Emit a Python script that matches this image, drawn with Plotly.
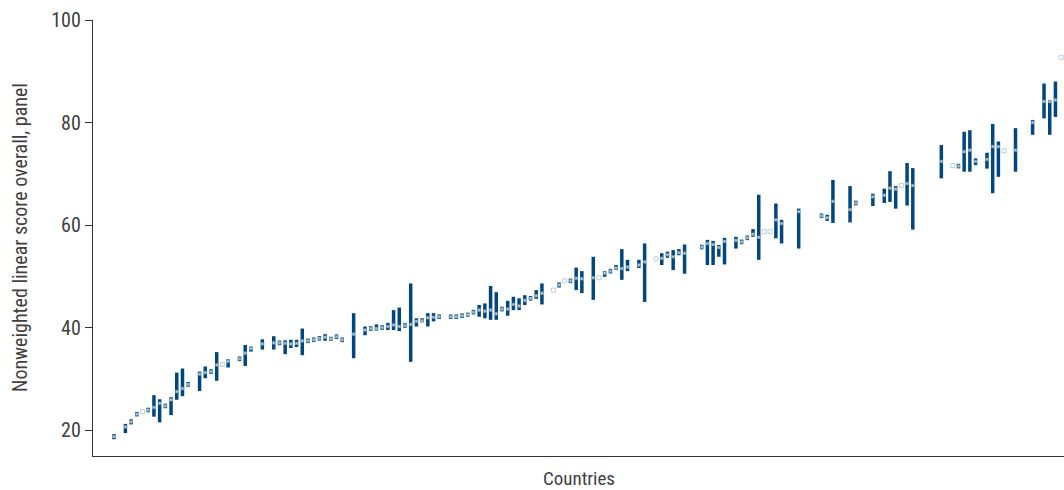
import numpy as np
import plotly.graph_objects as go

# Country slots ordered by score; None marks a country with no panel value
score = [18.7, None, 20.6, 21.6, 23.1, 23.6, 23.9, 24.4, 25.2, 24.7,
         25.9, 27.5, 28.1, 28.9, None, 30.9, 31.2, 31.4, 32.7, 32.8,
         33.4, None, 33.9, 35.0, 35.9, None, 36.8, None, 37.0, 37.0,
         36.9, 36.8, 36.9, 37.4, 37.4, 37.6, 37.9, 38.1, 37.8, 38.2,
         37.6, None, 38.7, None, 39.5, 39.8, 39.8, 40.0, 40.2, 40.5,
         40.2, 40.4, 40.6, 41.2, 41.3, 41.9, 42.0, 42.1, None, 42.1,
         42.1, 42.3, 42.5, 43.0, 43.4, 43.2, 43.4, 42.7, 43.6, 43.6,
         44.5, 44.2, 45.3, 45.7, 46.2, 46.7, None, 47.3, 48.3, 49.1,
         49.1, 49.6, 49.5, None, 49.7, 49.7, 50.6, 51.0, 51.6, 51.5,
         51.8, None, 52.2, 52.8, None, 53.4, 53.5, 54.2, 53.8, 54.6,
         54.5, None, None, 55.7, 56.4, 56.2, 55.6, 56.8, None, 57.0,
         56.7, 57.5, 58.2, 57.6, 58.7, 58.7, 61.0, 60.3, None, None,
         62.6, None, None, None, 61.8, 61.4, 64.6, None, None, 63.0,
         64.3, None, None, 65.5, None, 65.8, 67.2, 67.0, 67.7, 68.1,
         67.7, None, None, None, None, 72.4, None, 71.6, 71.5, 74.3,
         74.6, 72.4, None, 72.8, 75.3, 75.3, 74.5, None, 74.6, None,
         None, 80.0, None, 84.1, 84.1, 84.4, 92.7]

score_low = [18.2, None, 19.4, 21.1, 22.65, 23.6, 23.45, 22.6, 21.5, 24.25,
             22.9, 25.9, 26.6, 28.45, None, 27.6, 30.1, 30.95, 29.6, 32.8,
             32.2, None, 33.45, 32.5, 35.3, None, 35.7, None, 35.7, 36.55,
             34.8, 36.0, 36.2, 34.6, 36.95, 37.15, 37.45, 37.4, 37.4, 37.75,
             37.15, None, 34.0, None, 38.5, 39.35, 39.4, 39.55, 39.5, 39.5,
             39.3, 39.95, 33.3, 40.2, 41.0, 40.2, 41.2, 41.65, None, 41.65,
             41.65, 41.85, 42.1, 42.55, 42.1, 41.8, 41.5, 41.5, 43.15, 42.3,
             43.4, 43.4, 44.4, 45.25, 45.6, 44.5, None, 47.3, 47.8, 49.1,
             48.65, 47.3, 46.7, None, 45.4, 49.7, 49.9, 50.55, 51.2, 49.3,
             51.0, None, 51.6, 45.0, None, 53.4, 52.2, 53.6, 51.2, 54.1,
             50.5, None, None, 55.25, 52.2, 52.2, 53.8, 52.3, None, 55.4,
             56.25, 57.05, 57.7, 53.2, 58.7, 58.7, 57.4, 56.4, None, None,
             55.4, None, None, None, 61.35, 60.8, 60.4, None, None, 60.5,
             63.85, None, None, 63.7, None, 64.3, 64.5, 63.2, 67.7, 63.8,
             59.1, None, None, None, None, 69.1, None, 71.6, 71.05, 70.4,
             70.4, 71.7, None, 71.0, 66.2, 69.4, 74.5, None, 70.4, None,
             None, 77.6, None, 80.8, 77.6, 81.1, 92.7]

score_high = [19.2, None, 21.2, 22.1, 23.55, 23.6, 24.35, 26.8, 26.0, 25.15,
              26.4, 31.2, 32.0, 29.35, None, 31.4, 32.4, 31.85, 35.2, 32.8,
              33.8, None, 34.35, 36.6, 36.3, None, 37.7, None, 38.3, 37.45,
              37.5, 37.6, 37.6, 39.8, 37.85, 38.05, 38.35, 38.7, 38.2, 38.65,
              38.05, None, 42.8, None, 40.2, 40.25, 40.6, 40.45, 40.9, 43.4,
              43.9, 40.85, 48.6, 41.8, 41.8, 42.8, 42.8, 42.55, None, 42.55,
              42.55, 42.75, 42.9, 43.45, 44.4, 44.7, 48.1, 46.9, 44.05, 45.2,
              46.0, 45.7, 46.3, 46.15, 47.3, 48.6, None, 47.3, 48.8, 49.1,
              49.55, 51.7, 51.0, None, 53.8, 49.7, 51.0, 51.45, 52.2, 55.3,
              53.2, None, 53.2, 56.4, None, 53.4, 54.5, 54.8, 55.1, 55.3,
              56.2, None, None, 56.15, 57.1, 56.9, 56.1, 57.5, None, 57.7,
              57.15, 57.95, 59.2, 65.9, 58.7, 58.7, 64.2, 61.0, None, None,
              63.2, None, None, None, 62.25, 62.0, 68.8, None, None, 67.6,
              64.75, None, None, 66.1, None, 67.1, 70.5, 67.6, 67.7, 72.1,
              71.1, None, None, None, None, 75.6, None, 71.6, 71.95, 78.2,
              78.5, 73.0, None, 74.1, 79.7, 76.3, 74.5, None, 78.9, None,
              None, 80.5, None, 87.6, 84.4, 88.0, 92.7]

y_ticks = [20, 40, 60, 80, 100]

BAR_BLUE = "#00477f"
TEXT = "#404040"
FONT = "Liberation Sans Narrow, Arial Narrow, Roboto Condensed, sans-serif"

mid = np.array([np.nan if v is None else v for v in score], dtype=float)
lo = np.array([np.nan if v is None else v for v in score_low], dtype=float)
hi = np.array([np.nan if v is None else v for v in score_high], dtype=float)
slot = np.arange(len(mid))

# Countries with no spread show only the open square; others get a small gap mark
no_spread = (hi - lo) < 0.05
marker_size = np.where(no_spread, 4, 2.6)

fig = go.Figure(
    go.Scatter(
        x=slot,
        y=mid,
        mode="markers",
        cliponaxis=False,
        marker=dict(symbol="square", size=marker_size, color="white",
                    line=dict(color="#a9b9ca", width=np.where(no_spread, 1, 0.6))),
        error_y=dict(type="data", symmetric=False,
                     array=np.nan_to_num(hi - mid),
                     arrayminus=np.nan_to_num(mid - lo),
                     color=BAR_BLUE, thickness=3.5, width=0),
        hoverinfo="skip",
        showlegend=False,
    )
)

fig.update_layout(
    width=1064, height=490,
    margin=dict(l=93, r=0, t=20, b=34),
    paper_bgcolor="white", plot_bgcolor="white",
    font=dict(family=FONT, size=20, color=TEXT),
    xaxis=dict(range=[-3.68, 166.5], showticklabels=False, ticks="",
               showgrid=False, zeroline=False, showline=True,
               linecolor="#333333", linewidth=1.3),
    yaxis=dict(range=[14.93, 100], tickvals=y_ticks, ticks="outside",
               ticklen=7, tickcolor="#333333", tickwidth=1.3,
               showgrid=False, zeroline=False, showline=True,
               linecolor="#333333", linewidth=1.3,
               tickfont=dict(family=FONT, size=20, color=TEXT)),
    annotations=[
        dict(text="Countries", x=0.5, y=0, xref="paper", yref="paper",
             yshift=-22, xanchor="center", yanchor="middle", showarrow=False,
             font=dict(family=FONT, size=19, color=TEXT)),
        dict(text="Nonweighted linear score overall, panel", x=0, y=0.5,
             xref="paper", yref="paper", xshift=-73, textangle=-90,
             xanchor="center", yanchor="middle", showarrow=False,
             font=dict(family=FONT, size=20, color=TEXT)),
    ],
)

fig.write_html("out.html")
